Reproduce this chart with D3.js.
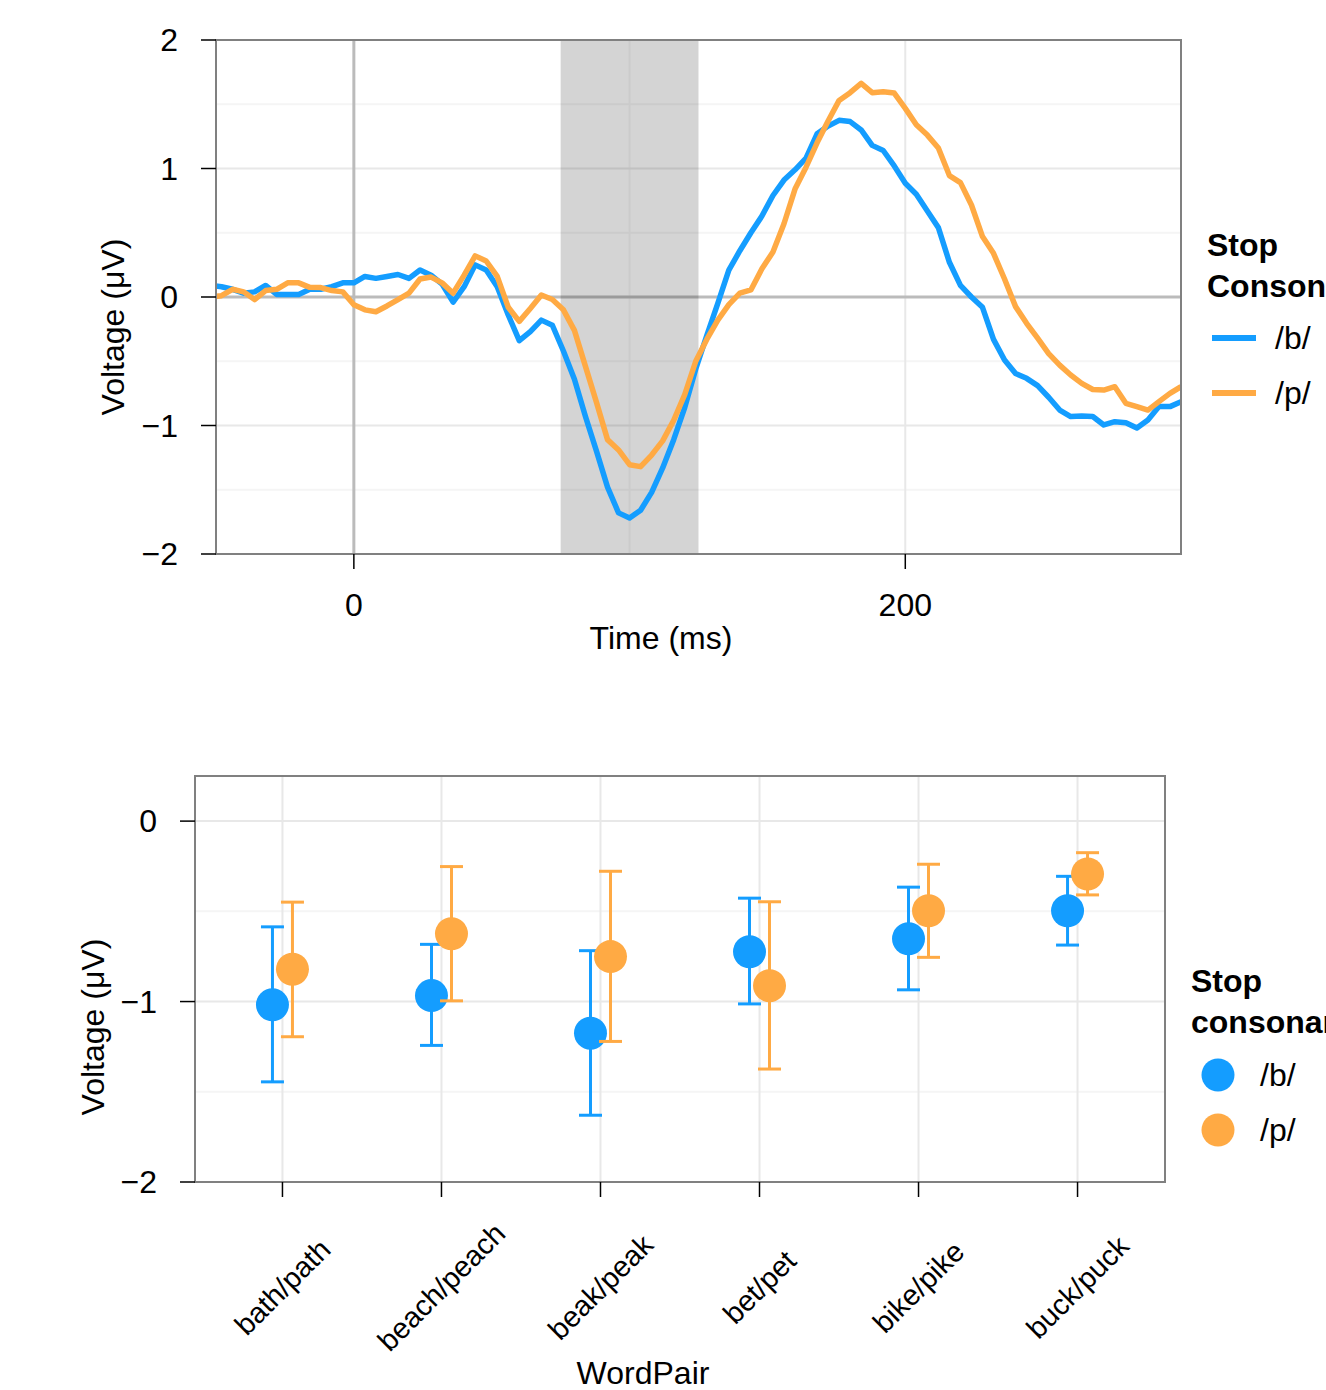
<!DOCTYPE html>
<html>
<head>
<meta charset="utf-8">
<script src="https://cdn.jsdelivr.net/npm/d3@7"></script>
<style>
    body { margin: 0; background: #fff; }
    text { font-family: "Liberation Sans", Arial, Helvetica, sans-serif; fill: #000; }
</style>
</head>
<body>
<div id="chart"></div>
<script>
// ERP waveforms, one sample every 4 ms
const times = d3.range(-52, 301, 4);
const voltB = [0.09, 0.08, 0.06, 0.03, 0.04, 0.09, 0.02, 0.02, 0.02, 0.06, 0.06, 0.08, 0.11,
    0.11, 0.16, 0.145, 0.16, 0.175, 0.145, 0.21, 0.17, 0.1, -0.04, 0.08, 0.25, 0.21, 0.08,
    -0.14, -0.34, -0.27, -0.18, -0.22, -0.42, -0.64, -0.93, -1.2, -1.48, -1.68, -1.72, -1.66,
    -1.52, -1.33, -1.11, -0.86, -0.56, -0.3, -0.05, 0.21, 0.36, 0.5, 0.63, 0.79, 0.91, 0.99,
    1.08, 1.27, 1.33, 1.375, 1.365, 1.3, 1.18, 1.14, 1.02, 0.885, 0.8, 0.67, 0.54, 0.27, 0.09,
    0.0, -0.08, -0.33, -0.49, -0.595, -0.633, -0.69, -0.78, -0.88, -0.93, -0.926, -0.93,
    -0.996, -0.97, -0.978, -1.02, -0.957, -0.853, -0.853, -0.815];
const voltP = [0.0, 0.01, 0.06, 0.04, -0.02, 0.05, 0.06, 0.11, 0.11, 0.075, 0.073, 0.05, 0.04,
    -0.06, -0.1, -0.115, -0.07, -0.02, 0.03, 0.14, 0.155, 0.11, 0.03, 0.17, 0.32, 0.28, 0.16,
    -0.08, -0.19, -0.09, 0.015, -0.02, -0.1, -0.26, -0.54, -0.82, -1.11, -1.19, -1.305, -1.32,
    -1.23, -1.12, -0.96, -0.76, -0.5, -0.33, -0.18, -0.06, 0.03, 0.055, 0.22, 0.35, 0.57, 0.84,
    1.01, 1.2, 1.37, 1.53, 1.59, 1.663, 1.59, 1.598, 1.587, 1.468, 1.34, 1.26, 1.16, 0.945,
    0.89, 0.716, 0.47, 0.34, 0.14, -0.075, -0.205, -0.32, -0.44, -0.53, -0.607, -0.672, -0.72,
    -0.724, -0.698, -0.827, -0.853, -0.88, -0.814, -0.75, -0.698];
const shadeWindow = [75, 125];
const timeTicks = [0, 200];
const timeMinor = [100];
const voltTicks = [-2, -1, 0, 1, 2];
const voltMinor = [-1.5, -0.5, 0.5, 1.5];

// mean amplitude per word pair
const wordPairs = ["bath/path", "beach/peach", "beak/peak", "bet/pet", "bike/pike", "buck/puck"];
const meanB = [-1.018, -0.967, -1.175, -0.724, -0.652, -0.497];
const lowB = [-1.445, -1.243, -1.63, -1.013, -0.935, -0.687];
const highB = [-0.586, -0.683, -0.718, -0.427, -0.366, -0.306];
const meanP = [-0.821, -0.624, -0.751, -0.912, -0.497, -0.293];
const lowP = [-1.195, -0.996, -1.221, -1.374, -0.755, -0.409];
const highP = [-0.449, -0.252, -0.278, -0.447, -0.239, -0.175];
const barTicks = [0, -1, -2];
const barMinor = [-0.5, -1.5];

const consonants = ["/b/", "/p/"];
const colors = {"/b/": "#149dff", "/p/": "#ffaa44"};

const svg = d3.select("#chart").append("svg")
    .attr("width", 1326)
    .attr("height", 1390);

const fmt = d3.format("d");
const fontSize = "32px";

// ---------- top: waveform ----------
let wave = {left: 216, right: 1181, top: 40, bottom: 554};
let x = d3.scaleLinear().domain([-50, 300]).range([wave.left, wave.right]);
let y = d3.scaleLinear().domain([-2, 2]).range([wave.bottom, wave.top]);

let g1 = svg.append("g");

g1.selectAll(".yminor").data(voltMinor).enter().append("line")
    .attr("x1", wave.left).attr("x2", wave.right)
    .attr("y1", d => y(d)).attr("y2", d => y(d))
    .attr("stroke", "#f5f5f5").attr("stroke-width", 2);
g1.selectAll(".xminor").data(timeMinor).enter().append("line")
    .attr("x1", d => x(d)).attr("x2", d => x(d))
    .attr("y1", wave.top).attr("y2", wave.bottom)
    .attr("stroke", "#f5f5f5").attr("stroke-width", 2);
g1.selectAll(".ygrid").data(voltTicks.filter(d => d !== 0)).enter().append("line")
    .attr("x1", wave.left).attr("x2", wave.right)
    .attr("y1", d => y(d)).attr("y2", d => y(d))
    .attr("stroke", "#e8e8e8").attr("stroke-width", 2);
g1.selectAll(".xgrid").data(timeTicks.filter(d => d !== 0)).enter().append("line")
    .attr("x1", d => x(d)).attr("x2", d => x(d))
    .attr("y1", wave.top).attr("y2", wave.bottom)
    .attr("stroke", "#e8e8e8").attr("stroke-width", 2);

// zero lines
g1.append("line")
    .attr("x1", wave.left).attr("x2", wave.right)
    .attr("y1", y(0)).attr("y2", y(0))
    .attr("stroke", "#bbbbbb").attr("stroke-width", 3);
g1.append("line")
    .attr("x1", x(0)).attr("x2", x(0))
    .attr("y1", wave.top).attr("y2", wave.bottom)
    .attr("stroke", "#bbbbbb").attr("stroke-width", 3);

// analysis window
g1.append("rect")
    .attr("x", x(shadeWindow[0]))
    .attr("y", wave.top)
    .attr("width", x(shadeWindow[1]) - x(shadeWindow[0]))
    .attr("height", wave.bottom - wave.top)
    .attr("fill", "#000")
    .attr("fill-opacity", 0.17);

svg.append("clipPath").attr("id", "clipTop")
    .append("rect")
    .attr("x", wave.left).attr("y", wave.top)
    .attr("width", wave.right - wave.left).attr("height", wave.bottom - wave.top);

let line = d3.line()
    .x(d => x(d[0]))
    .y(d => y(d[1]));

let waves = [
    {name: "/b/", values: times.map((t, i) => [t, voltB[i]])},
    {name: "/p/", values: times.map((t, i) => [t, voltP[i]])}
];

g1.append("g").attr("clip-path", "url(#clipTop)")
    .selectAll("path")
    .data(waves)
    .enter()
    .append("path")
    .attr("fill", "none")
    .attr("stroke", d => colors[d.name])
    .attr("stroke-width", 5.5)
    .attr("stroke-linejoin", "round")
    .attr("d", d => line(d.values));

g1.append("rect")
    .attr("x", wave.left).attr("y", wave.top)
    .attr("width", wave.right - wave.left).attr("height", wave.bottom - wave.top)
    .attr("fill", "none").attr("stroke", "#808080").attr("stroke-width", 2);

// axes
g1.selectAll(".ytick").data(voltTicks).enter().append("line")
    .attr("x1", wave.left - 15).attr("x2", wave.left)
    .attr("y1", d => y(d)).attr("y2", d => y(d))
    .attr("stroke", "#000").attr("stroke-width", 1.5);
g1.selectAll(".ylab").data(voltTicks).enter().append("text")
    .attr("x", 178).attr("y", d => y(d))
    .attr("text-anchor", "end").attr("dominant-baseline", "central")
    .style("font-size", fontSize)
    .text(d => fmt(d));
g1.selectAll(".xtick").data(timeTicks).enter().append("line")
    .attr("x1", d => x(d)).attr("x2", d => x(d))
    .attr("y1", wave.bottom).attr("y2", wave.bottom + 15)
    .attr("stroke", "#000").attr("stroke-width", 1.5);
g1.selectAll(".xlab").data(timeTicks).enter().append("text")
    .attr("x", d => x(d)).attr("y", 605)
    .attr("text-anchor", "middle").attr("dominant-baseline", "central")
    .style("font-size", fontSize)
    .text(d => fmt(d));

g1.append("text")
    .attr("x", 661).attr("y", 638)
    .attr("text-anchor", "middle").attr("dominant-baseline", "central")
    .style("font-size", fontSize)
    .text("Time (ms)");
g1.append("text")
    .attr("transform", "translate(113,327) rotate(-90)")
    .attr("text-anchor", "middle").attr("dominant-baseline", "central")
    .style("font-size", fontSize)
    .text("Voltage (\u03bcV)");

// legend (runs off the right edge, as in the original figure)
let leg1 = g1.append("g");
leg1.append("text").attr("x", 1207).attr("y", 245)
    .attr("dominant-baseline", "central")
    .style("font-size", fontSize).style("font-weight", "bold")
    .text("Stop");
leg1.append("text").attr("x", 1207).attr("y", 286)
    .attr("dominant-baseline", "central")
    .style("font-size", fontSize).style("font-weight", "bold")
    .text("Consonant");
consonants.forEach(function(c, i) {
    let ly = 338 + i * 55;
    leg1.append("line")
        .attr("x1", 1212).attr("x2", 1256)
        .attr("y1", ly).attr("y2", ly)
        .attr("stroke", colors[c]).attr("stroke-width", 6);
    leg1.append("text").attr("x", 1275).attr("y", ly)
        .attr("dominant-baseline", "central")
        .style("font-size", fontSize)
        .text(c);
});

// ---------- bottom: means with error bars ----------
let bars = {left: 195, right: 1165, top: 776, bottom: 1182};
let xb = d3.scalePoint().domain(wordPairs).range([bars.left, bars.right]).padding(0.55);
let yb = d3.scaleLinear().domain([-2, 0.25]).range([bars.bottom, bars.top]);
let dodge = {"/b/": -10, "/p/": 10};

let g2 = svg.append("g");

g2.selectAll(".yminor").data(barMinor).enter().append("line")
    .attr("x1", bars.left).attr("x2", bars.right)
    .attr("y1", d => yb(d)).attr("y2", d => yb(d))
    .attr("stroke", "#f5f5f5").attr("stroke-width", 2);
g2.selectAll(".ygrid").data(barTicks).enter().append("line")
    .attr("x1", bars.left).attr("x2", bars.right)
    .attr("y1", d => yb(d)).attr("y2", d => yb(d))
    .attr("stroke", "#e8e8e8").attr("stroke-width", 2);
g2.selectAll(".xgrid").data(wordPairs).enter().append("line")
    .attr("x1", d => xb(d)).attr("x2", d => xb(d))
    .attr("y1", bars.top).attr("y2", bars.bottom)
    .attr("stroke", "#e8e8e8").attr("stroke-width", 2);

let points = [];
wordPairs.forEach(function(w, i) {
    points.push({pair: w, cons: "/b/", mean: meanB[i], low: lowB[i], high: highB[i]});
    points.push({pair: w, cons: "/p/", mean: meanP[i], low: lowP[i], high: highP[i]});
});

let pt = g2.selectAll(".pt")
    .data(points)
    .enter()
    .append("g")
    .attr("class", "pt")
    .attr("transform", d => "translate(" + (xb(d.pair) + dodge[d.cons]) + ",0)");

pt.append("line")
    .attr("x1", 0).attr("x2", 0)
    .attr("y1", d => yb(d.low)).attr("y2", d => yb(d.high))
    .attr("stroke", d => colors[d.cons]).attr("stroke-width", 3);
pt.append("line")
    .attr("x1", -11.5).attr("x2", 11.5)
    .attr("y1", d => yb(d.low)).attr("y2", d => yb(d.low))
    .attr("stroke", d => colors[d.cons]).attr("stroke-width", 3);
pt.append("line")
    .attr("x1", -11.5).attr("x2", 11.5)
    .attr("y1", d => yb(d.high)).attr("y2", d => yb(d.high))
    .attr("stroke", d => colors[d.cons]).attr("stroke-width", 3);
pt.append("circle")
    .attr("cx", 0).attr("cy", d => yb(d.mean))
    .attr("r", 16.5)
    .attr("fill", d => colors[d.cons]);

g2.append("rect")
    .attr("x", bars.left).attr("y", bars.top)
    .attr("width", bars.right - bars.left).attr("height", bars.bottom - bars.top)
    .attr("fill", "none").attr("stroke", "#808080").attr("stroke-width", 2);

g2.selectAll(".ytick").data(barTicks).enter().append("line")
    .attr("x1", bars.left - 15).attr("x2", bars.left)
    .attr("y1", d => yb(d)).attr("y2", d => yb(d))
    .attr("stroke", "#000").attr("stroke-width", 1.5);
g2.selectAll(".ylab").data(barTicks).enter().append("text")
    .attr("x", 157).attr("y", d => yb(d))
    .attr("text-anchor", "end").attr("dominant-baseline", "central")
    .style("font-size", fontSize)
    .text(d => fmt(d));
g2.selectAll(".xtick").data(wordPairs).enter().append("line")
    .attr("x1", d => xb(d)).attr("x2", d => xb(d))
    .attr("y1", bars.bottom).attr("y2", bars.bottom + 15)
    .attr("stroke", "#000").attr("stroke-width", 1.5);
g2.selectAll(".xlab").data(wordPairs).enter().append("text")
    .attr("transform", d => "translate(" + xb(d) + ",1287) rotate(-45)")
    .attr("text-anchor", "middle").attr("dominant-baseline", "central")
    .style("font-size", "29px")
    .text(d => d);

g2.append("text")
    .attr("x", 643).attr("y", 1373)
    .attr("text-anchor", "middle").attr("dominant-baseline", "central")
    .style("font-size", fontSize)
    .text("WordPair");
g2.append("text")
    .attr("transform", "translate(93,1027) rotate(-90)")
    .attr("text-anchor", "middle").attr("dominant-baseline", "central")
    .style("font-size", fontSize)
    .text("Voltage (\u03bcV)");

let leg2 = g2.append("g");
leg2.append("text").attr("x", 1191).attr("y", 981)
    .attr("dominant-baseline", "central")
    .style("font-size", fontSize).style("font-weight", "bold")
    .text("Stop");
leg2.append("text").attr("x", 1191).attr("y", 1022)
    .attr("dominant-baseline", "central")
    .style("font-size", fontSize).style("font-weight", "bold")
    .text("consonant");
consonants.forEach(function(c, i) {
    let ly = 1075 + i * 55;
    leg2.append("circle")
        .attr("cx", 1218).attr("cy", ly).attr("r", 16.5)
        .attr("fill", colors[c]);
    leg2.append("text").attr("x", 1260).attr("y", ly)
        .attr("dominant-baseline", "central")
        .style("font-size", fontSize)
        .text(c);
});
</script>
</body>
</html>
